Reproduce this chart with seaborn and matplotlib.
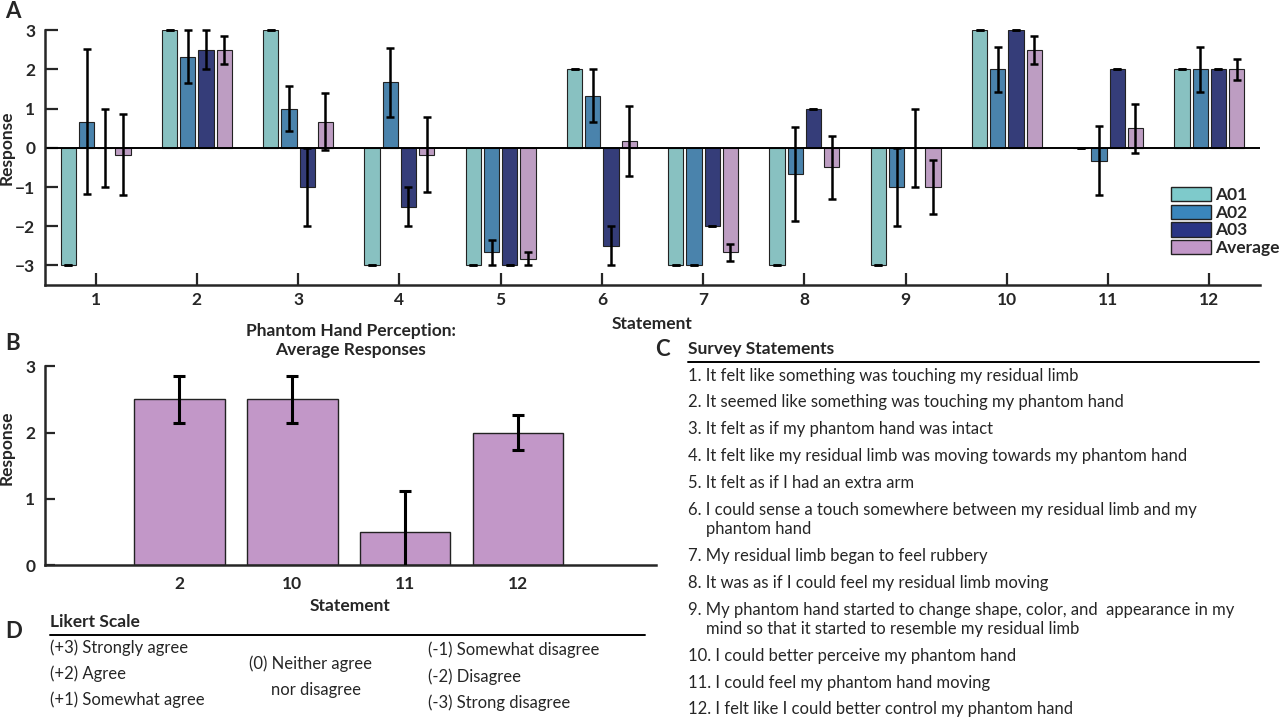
import numpy as np
import pandas as pd
import matplotlib
matplotlib.use("Agg")
import matplotlib.pyplot as plt
from matplotlib.patches import Patch
from matplotlib.lines import Line2D
import seaborn as sns

# data
statements = [str(i) for i in range(1, 13)]
subjects = ["A01", "A02", "A03", "Average"]
a01 = [-3, 3, 3, -3, -3, 2, -3, -3, -3, 3, 0, 2]
a01_err = [0, 0, 0, 0, 0, 0, 0, 0, 0, 0, 0, 0]
a02 = [0.67, 2.33, 1.0, 1.67, -2.67, 1.33, -3, -0.67, -1.0, 2.0, -0.33, 2.0]
a02_err = [1.86, 0.67, 0.58, 0.88, 0.33, 0.67, 0, 1.2, 1.0, 0.58, 0.88, 0.58]
a03 = [0, 2.5, -1, -1.5, -3, -2.5, -2, 1, 0, 3, 2, 2]
a03_err = [1, 0.5, 1, 0.5, 0, 0.5, 0, 0, 1, 0, 0, 0]
avg = [-0.17, 2.5, 0.67, -0.17, -2.83, 0.17, -2.67, -0.5, -1.0, 2.5, 0.5, 2.0]
avg_err = [1.04, 0.35, 0.72, 0.95, 0.17, 0.9, 0.21, 0.81, 0.68, 0.35, 0.62, 0.26]

# panel B uses the average of these statements
b_statements = ["2", "10", "11", "12"]

colors = ["#7ECACB", "#3A86BC", "#2A3584", "#C297C8"]

survey = [
    ["1. It felt like something was touching my residual limb"],
    ["2. It seemed like something was touching my phantom hand"],
    ["3. It felt as if my phantom hand was intact"],
    ["4. It felt like my residual limb was moving towards my phantom hand"],
    ["5. It felt as if I had an extra arm"],
    ["6. I could sense a touch somewhere between my residual limb and my", "phantom hand"],
    ["7. My residual limb began to feel rubbery"],
    ["8. It was as if I could feel my residual limb moving"],
    ["9. My phantom hand started to change shape, color, and  appearance in my",
     "mind so that it started to resemble my residual limb"],
    ["10. I could better perceive my phantom hand"],
    ["11. I could feel my phantom hand moving"],
    ["12. I felt like I could better control my phantom hand"],
]
likert_agree = ["(+3) Strongly agree", "(+2) Agree", "(+1) Somewhat agree"]
likert_neutral = ["(0) Neither agree", "nor disagree"]
likert_disagree = ["(-1) Somewhat disagree", "(-2) Disagree", "(-3) Strong disagree"]

sns.set_style("ticks")
plt.rcParams["font.family"] = ["Lato", "DejaVu Sans"]
plt.rcParams["axes.linewidth"] = 1.8

FS = 12      # body text
FSB = 12.5   # bold labels

W, H = 1280, 719
fig = plt.figure(figsize=(12.8, 7.19), dpi=100)


def fx(x):
    return x / W


def fy(y):
    return 1 - y / H


df = pd.DataFrame({
    "Statement": statements * 4,
    "Subject": np.repeat(subjects, len(statements)),
    "Response": a01 + a02 + a03 + avg,
    "err": a01_err + a02_err + a03_err + avg_err,
})

# ---- Panel A ----
ax = fig.add_axes([fx(45), fy(285), fx(1215), (285 - 30.3) / H])
sns.barplot(data=df, x="Statement", y="Response", hue="Subject",
            palette=colors, width=0.72, gap=0.17, errorbar=None,
            edgecolor="#222222", linewidth=0.8, legend=False, ax=ax)
ax.axhline(0, color="black", lw=1.4, zorder=1.5)
for cont, subj in zip(ax.containers, subjects):
    sub = df[df["Subject"] == subj]
    xs = [p.get_x() + p.get_width() / 2 for p in cont.patches]
    eb = ax.errorbar(xs, sub["Response"], yerr=sub["err"], fmt="none",
                     ecolor="black", elinewidth=1.8, capsize=2.8, capthick=1.8, zorder=3)
    for art in eb.get_children():
        art.set_clip_on(False)
ax.set_xlim(-0.5, 11.5)
ax.set_ylim(-3.5, 3)
ax.set_yticks([-3, -2, -1, 0, 1, 2, 3])
sns.despine(ax=ax)
ax.tick_params(axis="both", direction="in", length=9, width=1.6, labelsize=FSB)
ax.tick_params(axis="x", pad=5)
ax.tick_params(axis="y", pad=7)
for lab in ax.get_xticklabels() + ax.get_yticklabels():
    lab.set_fontweight("bold")
ax.set_xlabel("Statement", fontsize=FSB, fontweight="bold")
ax.set_ylabel("Response", fontsize=FSB, fontweight="bold")
ax.xaxis.set_label_coords(0.5, -0.12)
ax.yaxis.set_label_coords(-0.025, 0.538)
handles = [Patch(facecolor=c, edgecolor="#222222", linewidth=1.0) for c in colors]
ax.legend(handles, subjects, loc="upper left", bbox_to_anchor=(0.927, 0.385),
          frameon=False, borderaxespad=0, borderpad=0, handlelength=2.3,
          handleheight=0.9, handletextpad=0.2, labelspacing=0.08,
          prop={"weight": "bold", "size": FSB})

# ---- Panel B ----
axb = fig.add_axes([fx(45), fy(565), fx(611), (565 - 366.3) / H])
b_idx = [statements.index(s) for s in b_statements]
b_df = pd.DataFrame({"Statement": b_statements,
                     "Response": [avg[i] for i in b_idx],
                     "err": [avg_err[i] for i in b_idx]})
sns.barplot(data=b_df, x="Statement", y="Response", color=colors[3],
            width=0.8, errorbar=None, edgecolor="#222222", linewidth=1.0,
            saturation=1, ax=axb)
xs = [p.get_x() + p.get_width() / 2 for p in axb.containers[0].patches]
axb.errorbar(xs, b_df["Response"], yerr=b_df["err"], fmt="none", ecolor="black",
             elinewidth=2.2, capsize=4, capthick=2.2, zorder=3)
axb.set_xlim(-1.19, 4.22)
axb.set_ylim(0, 3)
axb.set_yticks([0, 1, 2, 3])
sns.despine(ax=axb)
axb.tick_params(axis="y", direction="in", length=7, width=1.6, labelsize=FSB, pad=7)
axb.tick_params(axis="x", length=0, labelsize=FSB, pad=8)
for lab in axb.get_xticklabels() + axb.get_yticklabels():
    lab.set_fontweight("bold")
axb.set_xlabel("Statement", fontsize=FSB, fontweight="bold")
axb.set_ylabel("Response", fontsize=FSB, fontweight="bold")
axb.xaxis.set_label_coords(0.5, -0.165)
axb.yaxis.set_label_coords(-0.05, 0.59)
axb.set_title("Phantom Hand Perception:\nAverage Responses", fontsize=FSB,
              fontweight="bold", pad=8, linespacing=1.25)

# ---- panel letters ----
for letter, (x, y) in zip("ABCD", [(5, 12), (5, 344), (655, 350), (5, 631)]):
    fig.text(fx(x), fy(y), letter, fontsize=16, fontweight="bold", va="center", ha="left")

# ---- Panel C: survey statements ----
fig.text(fx(688), fy(349), "Survey Statements", fontsize=FSB, fontweight="bold", va="center")
fig.add_artist(Line2D([fx(688), fx(1259)], [fy(362), fy(362)], color="black", lw=1.4))
y = 375.7
for item in survey:
    fig.text(fx(688), fy(y), item[0], fontsize=FS, va="center")
    for extra in item[1:]:
        y += 19.5
        fig.text(fx(706), fy(y), extra, fontsize=FS, va="center")
    y += 26.8

# ---- Panel D: Likert scale ----
fig.text(fx(50), fy(622), "Likert Scale", fontsize=FSB, fontweight="bold", va="center")
fig.add_artist(Line2D([fx(50), fx(645)], [fy(635), fy(635)], color="black", lw=1.4))
for i, t in enumerate(likert_agree):
    fig.text(fx(50), fy(648 + 26 * i), t, fontsize=FS, va="center")
fig.text(fx(249), fy(664), likert_neutral[0], fontsize=FS, va="center")
fig.text(fx(271), fy(690), likert_neutral[1], fontsize=FS, va="center")
for i, t in enumerate(likert_disagree):
    fig.text(fx(428), fy(650 + 26.5 * i), t, fontsize=FS, va="center")

fig.savefig("out.png", dpi=100)
